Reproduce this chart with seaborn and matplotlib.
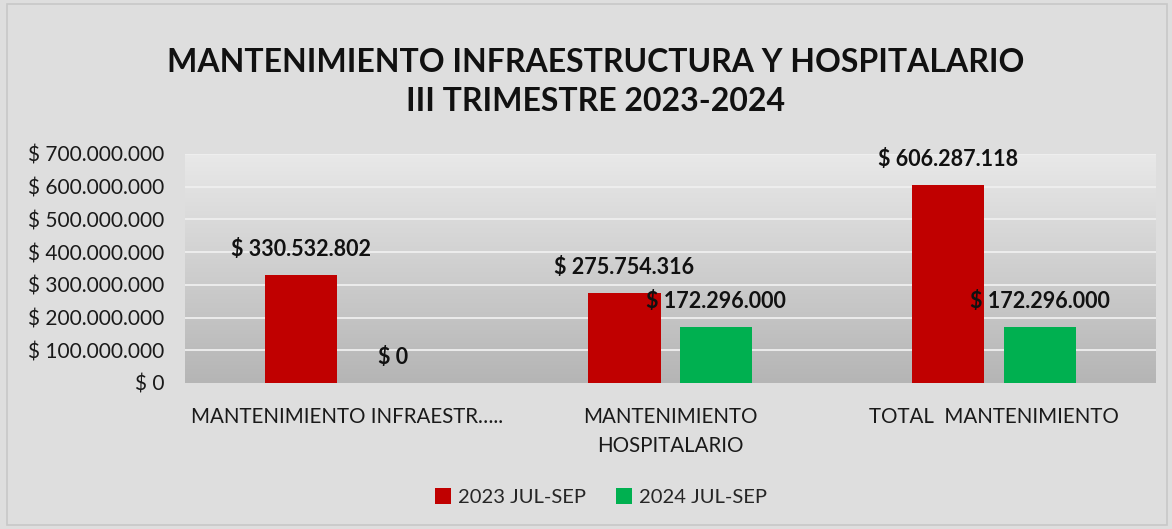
import numpy as np
import pandas as pd
import seaborn as sns
import matplotlib.pyplot as plt
from matplotlib.patches import Rectangle
from matplotlib.ticker import FuncFormatter
from matplotlib.colors import LinearSegmentedColormap

categorias = ['MANTENIMIENTO INFRAESTR…..', 'MANTENIMIENTO\nHOSPITALARIO', 'TOTAL  MANTENIMIENTO']
series = ['2023 JUL-SEP', '2024 JUL-SEP']
valores_2023 = [330532802, 275754316, 606287118]
valores_2024 = [0, 172296000, 172296000]
colores = ['#c00000', '#00b050']

df = pd.DataFrame({
    'categoria': categorias * 2,
    'serie': [series[0]] * 3 + [series[1]] * 3,
    'valor': valores_2023 + valores_2024,
})

sns.set_style('white')
plt.rcParams['font.family'] = ['Lato', 'DejaVu Sans']

def pesos(v):
    return '$ ' + f'{int(round(v)):,}'.replace(',', '.')

fig = plt.figure(figsize=(11.72, 5.29), dpi=100, facecolor='#dedede')
fig.patches.append(Rectangle((0.006, 0.008), 0.99, 0.984, transform=fig.transFigure,
                             fill=False, edgecolor='#c8c8c8', linewidth=1.2))
ax = fig.add_axes([0.158, 0.276, 0.828, 0.433])

# fondo degradado del area de trazado
grad = np.linspace(0, 1, 256).reshape(-1, 1)
ax.imshow(grad, extent=[-0.5, 2.5, 0, 700000000], aspect='auto',
          cmap=LinearSegmentedColormap.from_list('g', ['#e9e9e9', '#b5b5b5']), zorder=0)

sns.barplot(data=df, x='categoria', y='valor', hue='serie', palette=colores,
            saturation=1, width=0.568, gap=0.215, edgecolor='none', linewidth=0,
            ax=ax, zorder=3, legend=True)

ax.set_xlim(-0.5, 2.5)
ax.set_ylim(0, 700000000)
ax.set_yticks(np.arange(0, 700000001, 100000000))
ax.yaxis.set_major_formatter(FuncFormatter(lambda v, p: pesos(v)))
for y in np.arange(100000000, 700000001, 100000000):
    ax.axhline(y, color='#efefef', linewidth=1.3, zorder=1)
ax.set_xlabel('')
ax.set_ylabel('')
for s in ax.spines.values():
    s.set_visible(False)
ax.tick_params(axis='both', length=0, colors='#1a1a1a')
ax.tick_params(axis='y', labelsize=15, pad=15)
ax.tick_params(axis='x', labelsize=14.8, pad=17)
for t in ax.get_xticklabels():
    t.set_linespacing(1.6)

for cont in ax.containers:
    for bar in cont:
        h = bar.get_height()
        ax.annotate(pesos(h), (bar.get_x() + bar.get_width() / 2, h),
                    xytext=(0, 18), textcoords='offset points', ha='center', va='center',
                    fontsize=15.5, fontweight='bold', color='#111111', zorder=5)

handles, labels = ax.get_legend_handles_labels()
ax.get_legend().remove()
fig.legend(handles, labels, loc='center', bbox_to_anchor=(0.513, 0.06), ncol=2, frameon=False,
           fontsize=14.5, handlelength=0.8, handleheight=0.8, columnspacing=1.5,
           handletextpad=0.35)

fig.text(0.508, 0.845, 'MANTENIMIENTO INFRAESTRUCTURA Y HOSPITALARIO\nIII TRIMESTRE 2023-2024',
         ha='center', va='center', fontsize=23, fontweight='bold', color='#111111',
         linespacing=1.45)

fig.savefig('out.png', dpi=100, facecolor=fig.get_facecolor())
